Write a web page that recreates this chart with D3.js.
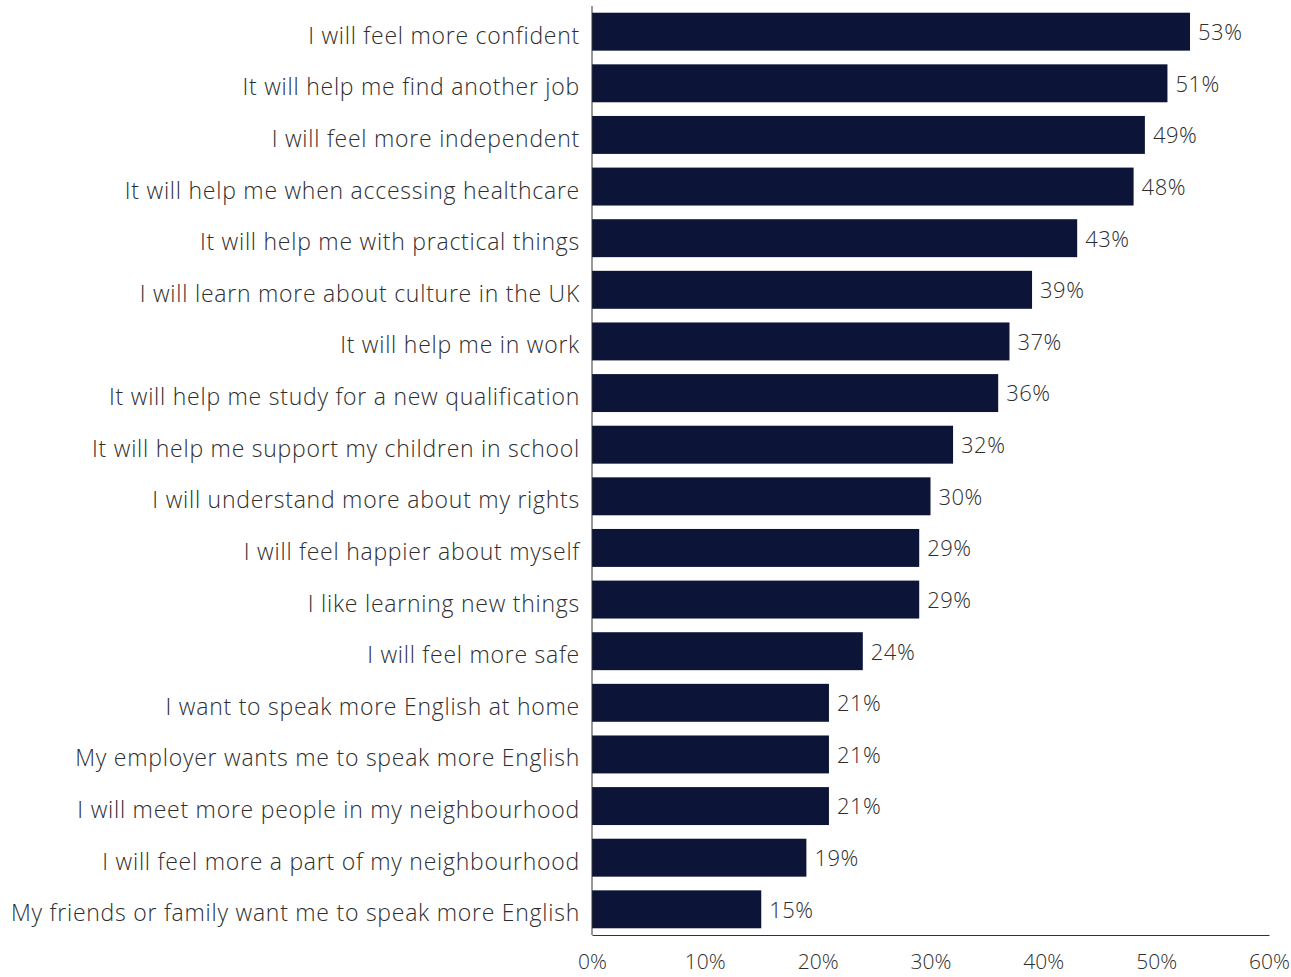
<!DOCTYPE html>
<html>
<head>
<meta charset="utf-8">
<script src="https://cdn.jsdelivr.net/npm/d3@7"></script>
<style>
  body { margin: 0; background: #fff; }
</style>
</head>
<body>
<div id="chart"></div>
<script>
// Reasons for learning English (% of respondents)
const categories = [
  "I will feel more confident",
  "It will help me find another job",
  "I will feel more independent",
  "It will help me when accessing healthcare",
  "It will help me with practical things",
  "I will learn more about culture in the UK",
  "It will help me in work",
  "It will help me study for a new qualification",
  "It will help me support my children in school",
  "I will understand more about my rights",
  "I will feel happier about myself",
  "I like learning new things",
  "I will feel more safe",
  "I want to speak more English at home",
  "My employer wants me to speak more English",
  "I will meet more people in my neighbourhood",
  "I will feel more a part of my neighbourhood",
  "My friends or family want me to speak more English"
];
const values = [53, 51, 49, 48, 43, 39, 37, 36, 32, 30, 29, 29, 24, 21, 21, 21, 19, 15];
const ticks = [0, 10, 20, 30, 40, 50, 60];

const data = categories.map((c, i) => ({ label: c, value: values[i] }));

const width = 1291;
const height = 977;
const margin = { top: 6, right: 22, bottom: 42, left: 592 };
const font = "'Open Sans', 'Noto Sans', sans-serif";
const textColor = "#2e2e2e";

const svg = d3.select("#chart")
  .append("svg")
  .attr("width", width)
  .attr("height", height)
  .style("font-family", font);

const x = d3.scaleLinear()
  .domain([0, 60])
  .range([margin.left, width - margin.right]);

const y = d3.scaleBand()
  .domain(categories)
  .range([margin.top, height - margin.bottom])
  .paddingInner(0.265)
  .paddingOuter(0.13);

// bars
svg.append("g")
  .selectAll("rect")
  .data(data)
  .join("rect")
  .attr("x", x(0))
  .attr("y", d => y(d.label))
  .attr("width", d => x(d.value) - x(0))
  .attr("height", y.bandwidth())
  .attr("fill", "#0c1538");

// value labels
svg.append("g")
  .selectAll("text")
  .data(data)
  .join("text")
  .attr("x", d => x(d.value) + 8)
  .attr("y", d => y(d.label) + y.bandwidth() / 2)
  .attr("dy", "0.38em")
  .attr("fill", textColor)
  .attr("font-size", "22px")
  .attr("font-weight", 300)
  .attr("letter-spacing", "0.5px")
  .text(d => d.value + "%");

// category axis
svg.append("g")
  .attr("transform", `translate(${x(0)},0)`)
  .call(d3.axisLeft(y).tickSize(0).tickPadding(12))
  .call(g => g.select(".domain").attr("stroke", "#333").attr("d", `M0,${margin.top}V${height - margin.bottom}`))
  .call(g => g.selectAll("text")
    .attr("fill", textColor)
    .attr("dy", "0.52em")
    .attr("letter-spacing", "0.75px")
    .style("font-family", font)
    .style("font-weight", 300)
    .style("font-size", "23px"));

// value axis
svg.append("g")
  .attr("transform", `translate(0,${height - margin.bottom})`)
  .call(d3.axisBottom(x).tickValues(ticks).tickFormat(d => d + "%").tickSize(0).tickPadding(19))
  .call(g => g.select(".domain").attr("stroke", "#333"))
  .call(g => g.selectAll("text")
    .attr("fill", textColor)
    .style("font-family", font)
    .style("font-weight", 300)
    .style("font-size", "21px"));
</script>
</body>
</html>
